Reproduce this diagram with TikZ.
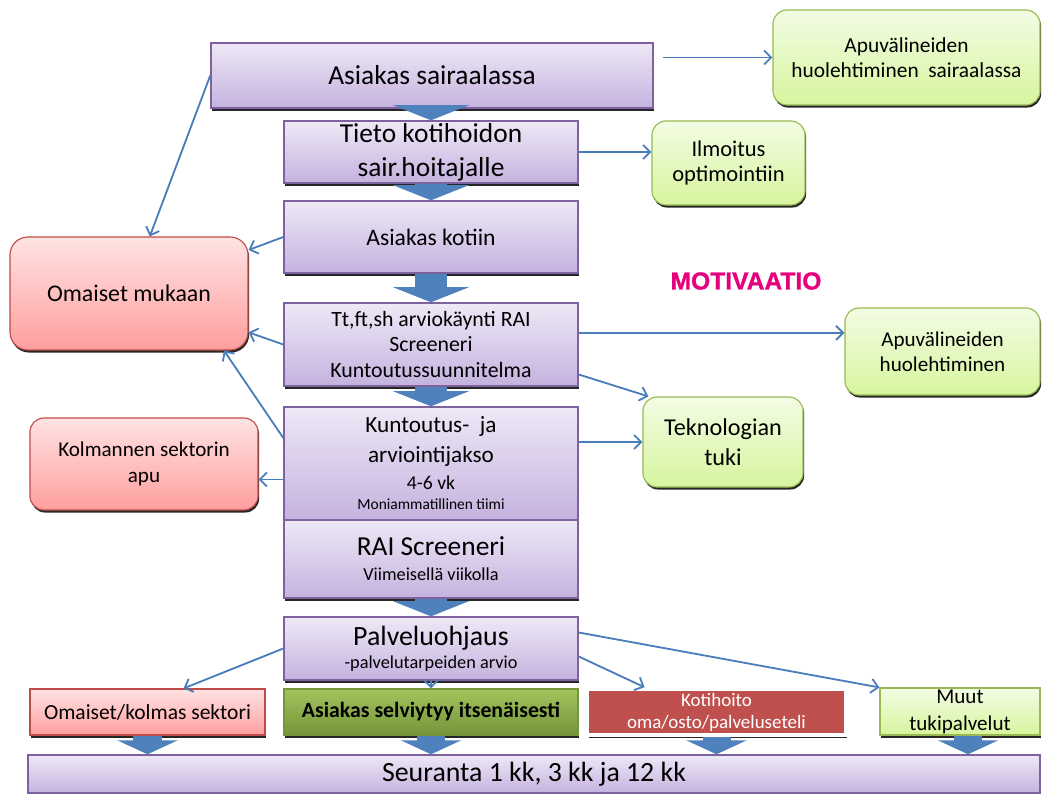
\documentclass[tikz,border=0pt]{standalone}
\usepackage{fontspec}
\setmainfont{Carlito}
\newfontfamily\motfont[FakeBold=1.2]{Liberation Sans}
\usetikzlibrary{arrows.meta, shadows, calc}

\definecolor{vioTop}{HTML}{EEE8F6}
\definecolor{vioBot}{HTML}{C5B2DF}
\definecolor{vioLine}{HTML}{7E62A0}
\definecolor{redTop}{HTML}{FFE3E3}
\definecolor{redBot}{HTML}{FF9E9E}
\definecolor{redLine}{HTML}{BE4B48}
\definecolor{grnTop}{HTML}{F3FCE4}
\definecolor{grnBot}{HTML}{D6F59E}
\definecolor{grnLine}{HTML}{98B954}
\definecolor{olvTop}{HTML}{A1C35C}
\definecolor{olvBot}{HTML}{76953A}
\definecolor{homeRed}{HTML}{C0504D}
\definecolor{fatBlue}{HTML}{4F81BD}
\definecolor{lineBlue}{HTML}{4A7EBB}
\definecolor{motiv}{HTML}{E5007E}

\newcommand{\fsz}[2]{\fontsize{#1}{#2}\selectfont\lineskiplimit=-20pt}

\tikzset{
  boxshadow/.style={drop shadow={shadow xshift=0.8pt, shadow yshift=-1.8pt, opacity=0.85, fill=black}},
  purplebox/.style={rectangle, draw=vioLine, line width=1pt, top color=vioTop, bottom color=vioBot,
    boxshadow, align=center, inner sep=1pt, minimum width=7.35cm},
  redbox/.style={rectangle, rounded corners=0.35cm, draw=redLine, line width=0.8pt, top color=redTop,
    bottom color=redBot, boxshadow, align=center, inner sep=1pt},
  greenbox/.style={rectangle, rounded corners=0.35cm, draw=grnLine, line width=0.8pt, top color=grnTop,
    bottom color=grnBot, boxshadow, align=center, inner sep=1pt},
  olivebox/.style={rectangle, draw=olvBot, line width=0.8pt, top color=olvTop, bottom color=olvBot,
    boxshadow, align=center, inner sep=1pt},
  homebox/.style={rectangle, draw=white, line width=2.5pt, fill=homeRed, text=white,
    boxshadow, align=center, inner sep=1pt},
  link/.style={draw=lineBlue, line width=1.3pt, -{Straight Barb[length=5pt, width=10pt]}},
  fat/.style={draw=fatBlue, line width=0.8cm, -{Triangle[length=0.38cm, width=1.9cm]}},
  fatsmall/.style={draw=fatBlue, line width=0.7cm, -{Triangle[length=0.35cm, width=1.5cm]}}
}

\begin{document}
\begin{tikzpicture}[x=0.025cm, y=-0.025cm]
\useasboundingbox (0,0) rectangle (1044,794);

% main column
\node [purplebox, minimum width=11.05cm, minimum height=1.625cm, font=\fsz{19.5}{23.5}] (sair) at (432,75.5) {Asiakas sairaalassa};
\node [purplebox, minimum height=1.55cm, font=\fsz{19.5}{24}] (tieto) at (431,152) {Tieto kotihoidon\\sair.hoitajalle};
\node [purplebox, minimum height=1.8cm, font=\fsz{16.8}{20}] (kotiin) at (431,237) {Asiakas kotiin};
\node [purplebox, minimum height=2.075cm, font=\fsz{15.5}{18.2}] (arvio) at (431,344.5) {Tt,ft,sh arviokäynti RAI\\Screeneri\\Kuntoutussuunnitelma};
\node [purplebox, minimum height=2.825cm, font=\fsz{16.5}{19.2}] (jakso) at (431,463.5)
  {Kuntoutus-~ ja\\[2.1pt]arviointijakso\\{\fsz{14}{17}4-6 vk}\\[-5pt]{\fsz{11}{14}Moniammatillinen tiimi}};
\node [purplebox, minimum height=1.95cm, font=\fsz{13}{17.8}] (rai) at (431,559) {{\fsz{19.5}{23}RAI Screeneri}\\Viimeisellä viikolla};
\node [purplebox, minimum height=1.575cm, font=\fsz{13}{16.4}] (palv) at (431,648.5) {{\fsz{19.8}{23}Palveluohjaus}\\-palvelutarpeiden arvio};

% side boxes
\node [redbox, rounded corners=0.45cm, minimum width=5.95cm, minimum height=2.825cm, font=\fsz{17}{20}] (omaiset) at (129,293.5) {Omaiset mukaan};
\node [redbox, minimum width=5.7cm, minimum height=2.3cm, font=\fsz{15}{19}] (kolmas) at (144,464) {Kolmannen sektorin\\apu};
\node [greenbox, minimum width=6.675cm, minimum height=2.375cm, font=\fsz{15.2}{18}] (apusair) at (906.5,57.5) {Apuvälineiden\\huolehtiminen~~sairaalassa};
\node [greenbox, minimum width=3.825cm, minimum height=2.1cm, font=\fsz{16}{18}] (ilmoitus) at (728.5,163) {Ilmoitus\\optimointiin};
\node [text=motiv, font=\motfont\bfseries\fsz{17.5}{20}] (motiv) at (746,281) {MOTIVAATIO};
\node [greenbox, minimum width=4.875cm, minimum height=2.175cm, font=\fsz{15}{18}] (apuhuol) at (942.5,351.5) {Apuvälineiden\\huolehtiminen};
\node [greenbox, minimum width=4cm, minimum height=2.25cm, font=\fsz{17.2}{21}] (tekno) at (723,442) {Teknologian\\tuki};

% bottom row
\node [redbox, rounded corners=0pt, minimum width=5.875cm, minimum height=1.15cm, font=\fsz{15.3}{17}] (omkol) at (147.5,712) {Omaiset/kolmas sektori};
\node [olivebox, minimum width=7.35cm, minimum height=1.15cm, font=\bfseries\fsz{15.5}{17}] (selv) at (431,712) {Asiakas selviytyy itsenäisesti};
\node [homebox, minimum width=6.45cm, minimum height=1.15cm, font=\fsz{13.5}{15.6}] (koti) at (716.5,712) {Kotihoito\\oma/osto/palveluseteli};
\node [greenbox, rounded corners=0pt, inner ysep=0pt, minimum width=4cm, minimum height=1.175cm, font=\fsz{15}{19.2}] (muut) at (960,711.5) {Muut\\tukipalvelut};
\node [purplebox, minimum width=25.3cm, minimum height=0.95cm, font=\fsz{19.8}{22}] (seur) at (534,774) {Seuranta 1 kk, 3 kk ja 12 kk};

% fat arrows
\draw [fat] (tieto.north |- sair.south) -- (tieto.north);
\draw [fat] (tieto.south) -- (kotiin.north);
\draw [fat] (kotiin.south) -- (arvio.north);
\draw [fat] (arvio.south) -- (jakso.north);
\draw [fat] (rai.south) -- (palv.north);
\draw [fatsmall] (omkol.south) -- (omkol.south |- seur.north);
\draw [fatsmall] (selv.south) -- (selv.south |- seur.north);
\draw [fatsmall] (koti.south) -- (koti.south |- seur.north);
\draw [fatsmall] ([xshift=0.2cm]muut.south) -- ([xshift=0.2cm]muut.south |- seur.north);

% thin arrows
\draw [link, shorten <=0.22cm] (sair.east |- apusair.west) -- (apusair.west);
\draw [link] (sair.west) -- (omaiset.70);
\draw [link] (tieto.east) -- (tieto.east -| ilmoitus.west);
\draw [link] (kotiin.west) -- (omaiset.20);
\draw [link] (arvio.west) -- (omaiset.-18);
\draw [link] ([yshift=0.29cm]arvio.east) coordinate (a1) -- (a1 -| apuhuol.west);
\draw [link] ([yshift=-0.75cm]arvio.east) -- ([xshift=0.15cm]tekno.north west);
\draw [link] ([yshift=0.64cm]jakso.west) -- (omaiset.-31);
\draw [link] ([yshift=-0.4cm]jakso.west) coordinate (a2) -- (a2 -| kolmas.east);
\draw [link] (jakso.east |- tekno.west) -- (tekno.west);
\draw [link] (palv.west) -- ([xshift=0.9cm]omkol.north);
\draw [link] (palv.south) -- (selv.north);
\draw [link] ([yshift=-0.2cm]palv.east) -- ([xshift=-1.8cm]koti.north);
\draw [link] ([yshift=0.4cm]palv.east) -- (muut.north west);
\end{tikzpicture}
\end{document}
